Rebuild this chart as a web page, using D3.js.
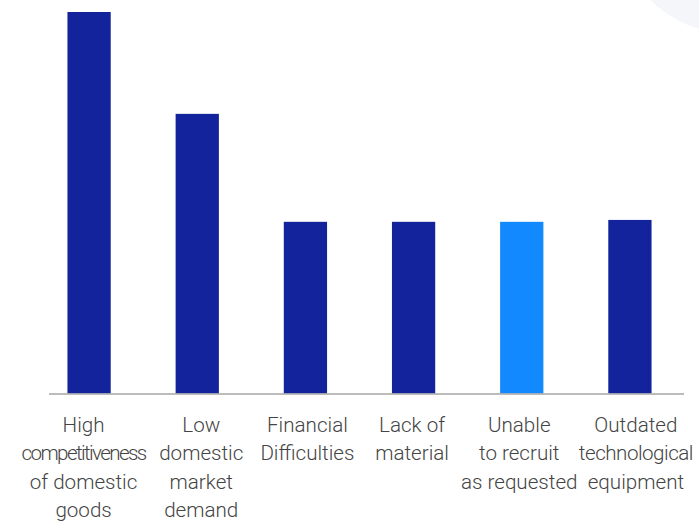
<!DOCTYPE html>
<html>
<head>
<meta charset="utf-8">
<script src="https://cdn.jsdelivr.net/npm/d3@7"></script>
<style>
  html, body { margin: 0; padding: 0; background: #fff; }
  svg { display: block; }
</style>
</head>
<body>
<svg id="chart"></svg>
<script>
// data (relative shares, tallest = 100)
const categories = [
  'High competitiveness of domestic goods',
  'Low domestic market demand',
  'Financial Difficulties',
  'Lack of material',
  'Unable to recruit as requested',
  'Outdated technological equipment'
];
const values = [100, 73.3, 45, 45, 45, 45.5];
const tickLabels = [
  ['High', 'competitiveness', 'of domestic', 'goods'],
  ['Low', 'domestic', 'market', 'demand'],
  ['Financial', 'Difficulties'],
  ['Lack of', 'material'],
  ['Unable', 'to recruit', 'as requested'],
  ['Outdated', 'technological', 'equipment']
];
const highlighted = ['Unable to recruit as requested'];

const width = 699;
const height = 526;
const baseY = 393.5;

const svg = d3.select('#chart')
  .attr('width', width)
  .attr('height', height);

// faint decorative circle in the top-right corner
svg.append('circle')
  .attr('cx', 730)
  .attr('cy', -80)
  .attr('r', 113)
  .attr('fill', '#f5f6f9');

const x = d3.scaleBand()
  .domain(categories)
  .range([35, 684])
  .paddingInner(0.6)
  .paddingOuter(0.3);

const y = d3.scaleLinear()
  .domain([0, d3.max(values)])
  .range([baseY, 12]);

// bars
svg.selectAll('.bar')
  .data(categories)
  .enter()
  .append('rect')
  .attr('class', 'bar')
  .attr('x', d => x(d))
  .attr('width', x.bandwidth())
  .attr('y', (d, i) => y(values[i]))
  .attr('height', (d, i) => baseY - y(values[i]))
  .attr('fill', d => highlighted.includes(d) ? '#1289fe' : '#13239b');

// baseline
svg.append('line')
  .attr('x1', 49)
  .attr('x2', 684)
  .attr('y1', baseY + 0.5)
  .attr('y2', baseY + 0.5)
  .attr('stroke', '#a6a6a6')
  .attr('stroke-width', 1.5);

// category labels, a small nudge per label as in the original
const labelNudge = [-5.5, 4, 2, -1.5, -2.5, 6];
// the long words are drawn tighter, like in the original
const tighten = { 'competitiveness': -1.6, 'technological': -0.5 };

const labels = svg.append('g')
  .attr('font-family', 'Roboto, "Liberation Sans", sans-serif')
  .attr('font-size', 20.6)
  .attr('font-weight', 300)
  .attr('fill', '#444')
  .attr('text-anchor', 'middle');

categories.forEach((c, i) => {
  const cx = x(c) + x.bandwidth() / 2 + labelNudge[i];
  tickLabels[i].forEach((line, j) => {
    const t = labels.append('text')
      .attr('x', cx)
      .attr('y', 431.5 + j * 28.5)
      .text(line);
    if (tighten[line]) {
      t.style('letter-spacing', tighten[line] + 'px');
    }
  });
});
</script>
</body>
</html>
